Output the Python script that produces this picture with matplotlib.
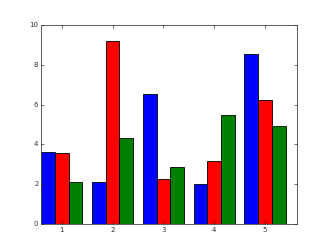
import matplotlib
matplotlib.use('Agg')
import matplotlib.pyplot as plt
import numpy as np

groups = [1, 2, 3, 4, 5]
blue_vals = [3.63, 2.13, 6.53, 1.99, 8.54]
red_vals = [3.55, 9.18, 2.26, 3.18, 6.22]
green_vals = [2.13, 4.34, 2.88, 5.48, 4.92]

plt.style.use('classic')
fig = plt.figure(figsize=(3.3, 2.49), dpi=100)
ax = fig.add_axes([0.125, 0.1, 0.775, 0.8])

x = np.array(groups, dtype=float)
width = 0.27
for offset, vals, color in [(-width, blue_vals, 'b'),
                            (0.0, red_vals, 'r'),
                            (width, green_vals, 'g')]:
    ax.bar(x + offset, vals, width, color=color, edgecolor='k',
           linewidth=0.6, align='center')

ax.set_xlim(0.595, 5.63)
ax.set_ylim(0, 10)
ax.set_xticks(groups)
ax.set_yticks([0, 2, 4, 6, 8, 10])
ax.tick_params(labelsize=5, length=2.5, width=0.5, direction='in',
               colors='#333333', pad=2)
for spine in ax.spines.values():
    spine.set_linewidth(0.6)
    spine.set_color('#444444')

fig.savefig('out.png', dpi=100)
